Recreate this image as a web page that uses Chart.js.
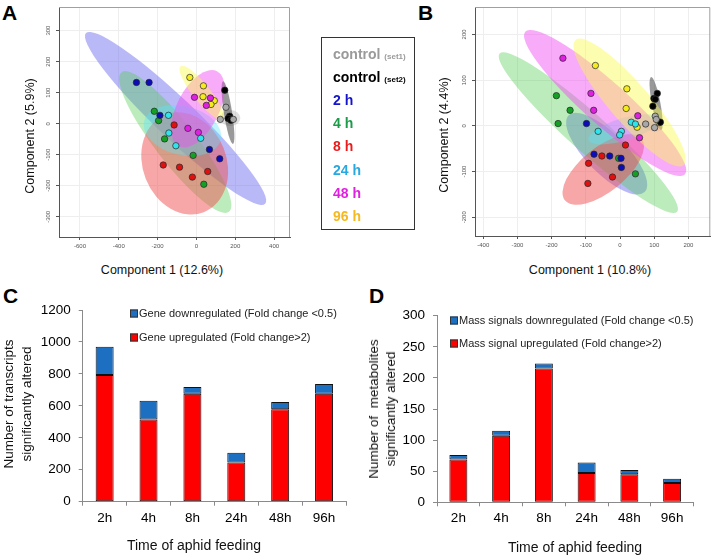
<!DOCTYPE html>
<html>
<head>
<meta charset="utf-8">
<script src="https://cdn.jsdelivr.net/npm/chart.js@4.4.1/dist/chart.umd.min.js"></script>
<style>
body { margin: 0; width: 715px; height: 555px; position: relative; overflow: hidden; background: #fff;
       font-family: "Liberation Sans", Arial, sans-serif; }
.abs { position: absolute; }
.letter { position: absolute; font-weight: bold; font-size: 21px; line-height: 1; color: #000; }
.title { position: absolute; white-space: nowrap; color: #111; transform: translate(-50%, -50%); text-align: center; }
.ytitle { transform: translate(-50%, -50%) rotate(-90deg); }
.lg { position: absolute; font-weight: bold; font-size: 14px; line-height: 1; white-space: nowrap; transform: translateY(-50%); }
.lg small { font-size: 8px; }
.key { position: absolute; font-size: 11px; line-height: 1; white-space: nowrap; color: #222; transform: translateY(-50%); }
.key i { display: inline-block; width: 6px; height: 6px; border: 1px solid #333; margin-right: 1px; vertical-align: -1px; }
</style>
</head>
<body>

<div class="letter" style="left:2px;top:2px">A</div>
<div class="letter" style="left:418px;top:2px">B</div>
<div class="letter" style="left:3px;top:285px">C</div>
<div class="letter" style="left:369px;top:285px">D</div>

<div class="abs" style="left:0;top:0;width:300px;height:260px"><canvas id="chartA"></canvas></div>
<div class="abs" style="left:420px;top:0;width:295px;height:260px"><canvas id="chartB"></canvas></div>
<div class="abs" style="left:0;top:290px;width:360px;height:265px"><canvas id="chartC"></canvas></div>
<div class="abs" style="left:360px;top:290px;width:355px;height:265px"><canvas id="chartD"></canvas></div>

<div class="title" style="left:162px;top:270px;font-size:12.5px">Component 1 (12.6%)</div>
<div class="title ytitle" style="left:30px;top:136px;font-size:12.5px">Component 2 (5.9%)</div>
<div class="title" style="left:590px;top:270px;font-size:12.5px">Component 1 (10.8%)</div>
<div class="title ytitle" style="left:444px;top:135px;font-size:12.5px">Component 2 (4.4%)</div>

<div class="title" style="left:194px;top:545px;font-size:14px">Time of aphid feeding</div>
<div class="title ytitle" style="left:18px;top:404px;font-size:13.5px;line-height:18px">Number of transcripts<br>significantly altered</div>
<div class="title" style="left:575px;top:547px;font-size:14px">Time of aphid feeding</div>
<div class="title ytitle" style="left:382px;top:409px;font-size:13.5px;line-height:17px">Number of&nbsp; metabolites<br>significantly altered</div>

<div class="abs" style="left:321px;top:37px;width:92px;height:191px;border:1px solid #333"></div>
<div id="groupLegend"></div>
<div id="keyC"></div>
<div id="keyD"></div>

<script>
// groups of the PCA plots
var groups = ['control', 'control', '2 h', '4 h', '8 h', '24 h', '48 h', '96 h'];
var groupSets = ['(set1)', '(set2)', '', '', '', '', '', ''];
var groupText = ['#9a9a9a', '#000000', '#1414c8', '#1a9c48', '#e81c1c', '#28a8e0', '#e020e0', '#f5b820'];
var groupFill = ['#a8a8a8', '#000000', '#0c0cb8', '#14a024', '#e01010', '#30e4ee', '#e020e0', '#f4ec1c'];
var ellipseFill = ['rgba(185,185,185,0.45)', 'rgba(70,70,70,0.55)', 'rgba(100,100,240,0.45)',
  'rgba(80,205,80,0.38)', 'rgba(240,80,80,0.5)', 'rgba(90,230,250,0.38)',
  'rgba(240,80,240,0.48)', 'rgba(250,250,80,0.45)'];

// panel A scores [component 1, component 2]
var ctrl1A = [[152, 53], [123, 14], [190, 14]];
var ctrl2A = [[146, 108], [171, 24], [174, 16], [163, 17], [178, 11]];
var h2A = [[-309, 133], [-244, 133], [-188, 27], [67, -83], [120, -113]];
var h4A = [[-217, 40], [-195, 10], [-164, -49], [-17, -102], [38, -195]];
var h8A = [[-171, -133], [-87, -140], [-115, -4], [-21, -172], [58, -154]];
var h24A = [[-144, 27], [-142, -30], [-106, -71], [22, -47]];
var h48A = [[-10, 85], [72, 83], [51, 59], [-44, -15], [10, -28]];
var h96A = [[-34, 149], [36, 122], [34, 87], [92, 74], [75, 62]];
// confidence ellipses A: major axis ends [x1, y1, x2, y2] and minor/major ratio
var ellA = [[123, 18, 226, 18, 0.8], [137, 137, 188, -65, 0.13], [-569, 292, 354, -258, 0.16],
  [-386, 166, 168, -284, 0.23], [-159, 29, 38, -285, 0.8], [-270, 8, 126, -52, 0.62],
  [106, 169, -91, -73, 0.5], [-82, 185, 137, 13, 0.25]];
var xTicksA = [-600, -400, -200, 0, 200, 400];
var yTicksA = [-300, -200, -100, 0, 100, 200, 300];

// panel B scores
var ctrl1B = [[75, 4], [103, 21], [106, 14], [101, -4]];
var ctrl2B = [[109, 71], [99, 60], [103, 58], [96, 43], [118, 8]];
var h2B = [[-98, 5], [-76, -62], [-30, -66], [3, -71], [4, -91]];
var h4B = [[-186, 66], [-146, 34], [-181, 5], [-4, -71], [45, -105]];
var h8B = [[-92, -82], [-53, -66], [16, -42], [-22, -112], [-94, -126]];
var h24B = [[-64, -12], [4, -12], [-1, -20], [33, 8], [45, 4]];
var h48B = [[-167, 148], [-85, 71], [-77, 34], [52, 22], [57, -26]];
var h96B = [[-72, 132], [20, 81], [18, 38], [50, -3], [114, 7]];
var ellB = [[62, 4, 124, -6, 0.45], [91, 107, 120, -9, 0.16], [-150, 23, 72, -145, 0.37],
  [-352, 158, 167, -188, 0.16], [-161, -163, 63, -28, 0.45], [-92, -31, 116, 16, 0.3],
  [-277, 206, 190, -106, 0.2], [-130, 188, 186, -86, 0.24]];
var xTicksB = [-400, -300, -200, -100, 0, 100, 200];
var yTicksB = [-200, -100, 0, 100, 200];

// panels C and D
var hours = ['2h', '4h', '8h', '24h', '48h', '96h'];
var upC = [793, 515, 676, 246, 578, 676];
var downC = [177, 117, 42, 61, 46, 61];
var keysC = ['Gene downregulated (Fold change <0.5)', 'Gene upregulated (Fold change>2)'];
var upD = [69, 107, 215, 47, 45, 31];
var downD = [7, 8, 8, 17, 7, 7];
var keysD = ['Mass signals downregulated (Fold change <0.5)', 'Mass signal upregulated (Fold change>2)'];

var upColor = '#ff0000';
var downColor = '#1d6fc2';
var family = '"Liberation Sans", Arial, sans-serif';

// legend box between A and B
var lg = document.getElementById('groupLegend');
groups.forEach(function (g, i) {
  var d = document.createElement('div');
  d.className = 'lg';
  d.style.left = '333px';
  d.style.top = (53.5 + i * 23.2) + 'px';
  d.style.color = groupText[i];
  d.innerHTML = g + (groupSets[i] ? ' <small>' + groupSets[i] + '</small>' : '');
  lg.appendChild(d);
});

function makeKeys(id, labels, left, tops) {
  var box = document.getElementById(id);
  var colors = [downColor, upColor];
  labels.forEach(function (t, i) {
    var d = document.createElement('div');
    d.className = 'key';
    d.style.left = left + 'px';
    d.style.top = tops[i] + 'px';
    d.innerHTML = '<i style="background:' + colors[i] + '"></i>' + t;
    box.appendChild(d);
  });
}
makeKeys('keyC', keysC, 130, [313, 336.5]);
makeKeys('keyD', keysD, 450, [320, 343]);

function ellipsePlugin(list) {
  return {
    id: 'ellipses',
    beforeDatasetsDraw: function (chart) {
      var ctx = chart.ctx, a = chart.chartArea;
      var sx = chart.scales.x, sy = chart.scales.y;
      ctx.save();
      ctx.beginPath();
      ctx.rect(a.left, a.top, a.right - a.left, a.bottom - a.top);
      ctx.clip();
      list.forEach(function (e, i) {
        var x1 = sx.getPixelForValue(e[0]), y1 = sy.getPixelForValue(e[1]);
        var x2 = sx.getPixelForValue(e[2]), y2 = sy.getPixelForValue(e[3]);
        var r = Math.hypot(x2 - x1, y2 - y1) / 2;
        ctx.beginPath();
        ctx.ellipse((x1 + x2) / 2, (y1 + y2) / 2, r, r * e[4], Math.atan2(y2 - y1, x2 - x1), 0, Math.PI * 2);
        ctx.fillStyle = ellipseFill[i];
        ctx.fill();
      });
      ctx.restore();
    },
    afterDraw: function (chart) {
      var ctx = chart.ctx, a = chart.chartArea;
      ctx.save();
      ctx.strokeStyle = '#a0a0a0';
      ctx.beginPath();
      ctx.moveTo(a.left, a.top + 0.5);
      ctx.lineTo(a.right - 0.5, a.top + 0.5);
      ctx.lineTo(a.right - 0.5, a.bottom);
      ctx.stroke();
      ctx.restore();
    }
  };
}

function pcaChart(id, series, ell, xr, yr, xTicks, yTicks, yWidth, xHeight, pad) {
  new Chart(document.getElementById(id), {
    type: 'scatter',
    data: {
      datasets: series.map(function (pts, i) {
        return {
          label: groups[i] + ' ' + groupSets[i],
          data: pts.map(function (p) { return { x: p[0], y: p[1] }; }),
          backgroundColor: groupFill[i],
          borderColor: '#262626',
          borderWidth: 0.7,
          pointRadius: 3.2
        };
      })
    },
    options: {
      responsive: true,
      maintainAspectRatio: false,
      animation: false,
      layout: { padding: pad },
      plugins: { legend: { display: false }, tooltip: { enabled: false } },
      scales: {
        x: {
          type: 'linear', min: xr[0], max: xr[1],
          afterBuildTicks: function (s) { s.ticks = xTicks.map(function (v) { return { value: v }; }); },
          afterFit: function (s) { s.height = xHeight; },
          grid: { color: '#eeeeee', tickColor: '#555', tickLength: 3 },
          border: { color: '#555' },
          ticks: { font: { size: 6, family: family }, color: '#555', padding: 3 }
        },
        y: {
          type: 'linear', min: yr[0], max: yr[1],
          afterBuildTicks: function (s) { s.ticks = yTicks.map(function (v) { return { value: v }; }); },
          afterFit: function (s) { s.width = yWidth; },
          grid: { color: '#eeeeee', tickColor: '#555', tickLength: 3 },
          border: { color: '#555' },
          ticks: { font: { size: 6, family: family }, color: '#555', padding: 2,
                   minRotation: 90, maxRotation: 90, crossAlign: 'center' }
        }
      }
    },
    plugins: [ellipsePlugin(ell)]
  });
}

pcaChart('chartA', [ctrl1A, ctrl2A, h2A, h4A, h8A, h24A, h48A, h96A], ellA,
  [-708, 482], [-365, 376], xTicksA, yTicksA, 59, 23, { left: 0, top: 7, right: 10, bottom: 0 });
pcaChart('chartB', [ctrl1B, ctrl2B, h2B, h4B, h8B, h24B, h48B, h96B], ellB,
  [-424, 264], [-241, 260], xTicksB, yTicksB, 55, 24, { left: 0, top: 7, right: 2, bottom: 0 });

function barChart(id, up, down, keys, yMax, yStep, yWidth, xHeight, pad, barPct) {
  new Chart(document.getElementById(id), {
    type: 'bar',
    data: {
      labels: hours,
      datasets: [
        { label: keys[1], data: up, backgroundColor: upColor, borderColor: '#111', borderWidth: 1, borderSkipped: false },
        { label: keys[0], data: down, backgroundColor: downColor, borderColor: '#111', borderWidth: 1, borderSkipped: false }
      ]
    },
    options: {
      responsive: true,
      maintainAspectRatio: false,
      animation: false,
      layout: { padding: pad },
      datasets: { bar: { barPercentage: barPct, categoryPercentage: 1 } },
      plugins: { legend: { display: false }, tooltip: { enabled: false } },
      scales: {
        x: {
          stacked: true,
          afterFit: function (s) { s.height = xHeight; },
          grid: { drawOnChartArea: false, tickLength: 4, color: '#8a8a8a', offset: true },
          border: { color: '#8a8a8a' },
          ticks: { font: { size: 13.5, family: family }, color: '#000', padding: 4 }
        },
        y: {
          stacked: true, min: 0, max: yMax,
          afterFit: function (s) { s.width = yWidth; },
          grid: { drawOnChartArea: false, tickLength: 4, color: '#8a8a8a' },
          border: { color: '#8a8a8a' },
          ticks: { stepSize: yStep, font: { size: 13.5, family: family }, color: '#000', padding: 8,
                   callback: function (v) { return String(v); } }
        }
      }
    }
  });
}

barChart('chartC', upC, downC, keysC, 1200, 200, 82.7, 53.3, { left: 0, top: 20, right: 14, bottom: 0 }, 0.41);
barChart('chartD', upD, downD, keysD, 300, 50, 77, 52.7, { left: 0, top: 25.7, right: 21.5, bottom: 0 }, 0.42);
</script>
</body>
</html>
